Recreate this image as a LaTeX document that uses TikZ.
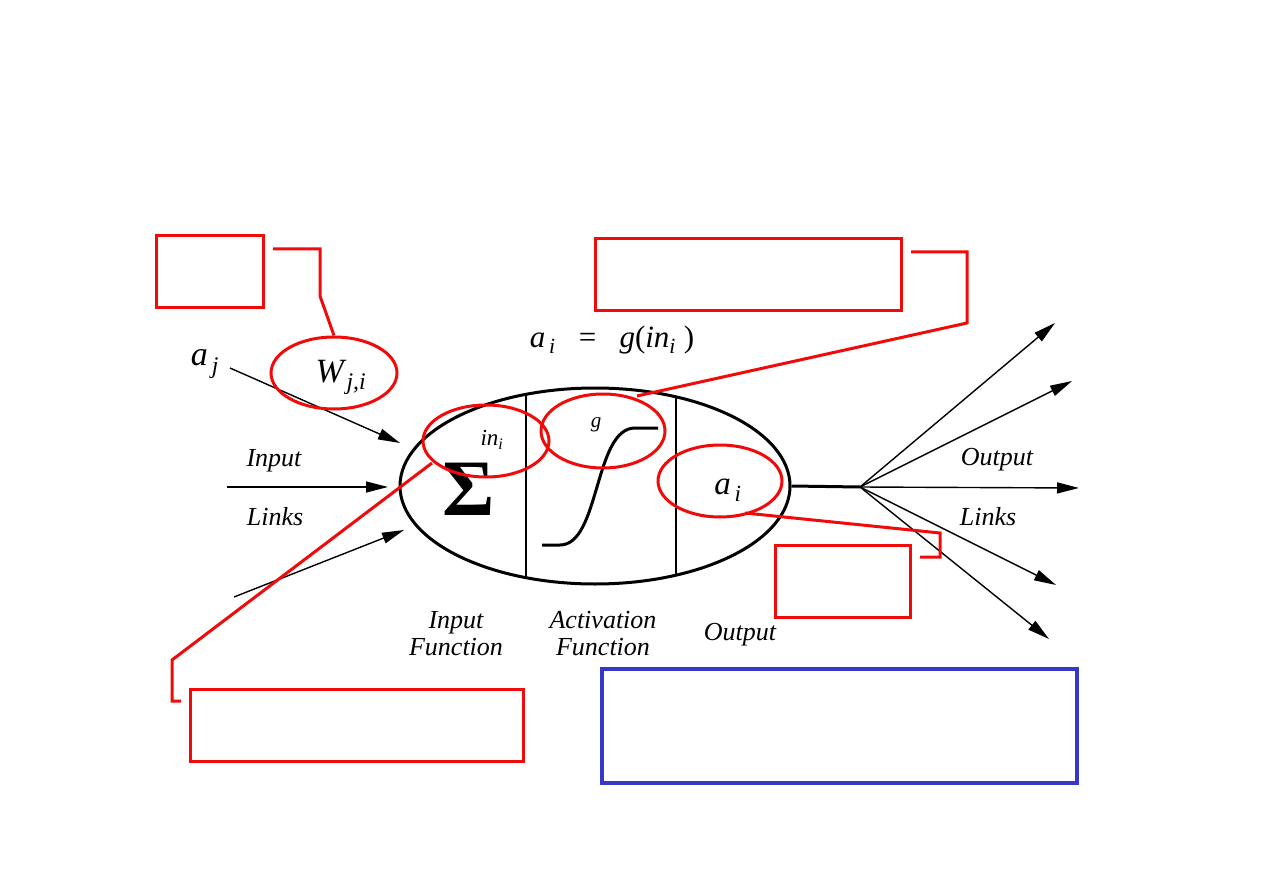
\documentclass[tikz,border=0pt]{standalone}
\usepackage{fontspec}
\setmainfont{Liberation Serif}
\usetikzlibrary{shapes.geometric,arrows.meta}
\definecolor{callred}{RGB}{240,10,10}
\definecolor{noteblue}{RGB}{55,55,200}
\newcommand{\sym}[2]{\textit{#1}\textsubscript{\textit{#2}}}
\tikzset{
  callbox/.style={draw=callred, line width=3pt, rectangle, inner sep=0pt},
  callring/.style={draw=callred, line width=3pt, ellipse, inner sep=0pt, minimum width=126pt, minimum height=72pt},
  callline/.style={draw=callred, line width=3pt},
  link/.style={line width=1.4pt, -{Triangle[length=22pt,width=11pt]}},
  lbl/.style={font=\fontsize{26}{27}\selectfont\itshape, align=center, inner sep=0pt},
  mathtxt/.style={inner sep=0pt}
}
\begin{document}
\begin{tikzpicture}[x=1pt, y=-1pt]
            \useasboundingbox (0,0) rectangle (1263,893);

            % Neuron body
            \node [draw, ellipse, line width=3pt, minimum width=390pt, minimum height=196pt, inner sep=0pt] (neuron) at (595,486) {};
            \draw [line width=1.4pt] (526,394) -- (526,578);
            \draw [line width=1.4pt] (676,397) -- (676,575);

            % Summation and activation curve
            \node [mathtxt] (sigma) at (469,489) {\fontsize{80}{80}\selectfont\bfseries Σ};
            \draw [line width=3pt] (542,545) -- (560,545) .. controls (600,545) and (594,428) .. (635,428) -- (658,428);

            % Input links
            \node [mathtxt] (aj) at (205,364) {\fontsize{34}{36}\selectfont\sym{a}{\,j}};
            \coordinate (in1) at (400,443);
            \coordinate (in2) at (388,487);
            \coordinate (in3) at (404,530);
            \draw [link] (230,368) -- (in1);
            \draw [link] (227,487) -- (in2);
            \draw [link] (234,597) -- (in3);
            \node [lbl] (inputtxt) at (274,461) {Input};
            \node [lbl] (linkstxt) at (275,517) {Links};

            % Output links
            \coordinate (hub) at (860,487);
            \draw [line width=3pt] (neuron.east) -- (hub);
            \coordinate (out1) at (1055,323);
            \coordinate (out2) at (1072,381);
            \coordinate (out3) at (1079,488);
            \coordinate (out4) at (1056,585);
            \coordinate (out5) at (1049,639);
            \foreach \o in {out1,out2,out3,out4,out5}
                \draw [link] (hub) -- (\o);
            \node [lbl] (outputtxt) at (997,460) {Output};
            \node [lbl] (linkstxt2) at (988,517) {Links};

            % Stage labels
            \node [lbl] (infunc) at (456,634) {Input\\Function};
            \node [lbl] (actfunc) at (603,634) {Activation\\Function};
            \node [lbl] (outtxt) at (740,635) {Output};

            % Formula
            \node [mathtxt] (formula) at (612,340) {\fontsize{31}{33}\selectfont\sym{a}{\,i}\ \ \ =\ \ \ \textit{g}(\sym{in}{i}\ )};

            % Neuron texts
            \node [mathtxt] (wtxt) at (341,377) {\fontsize{34}{36}\selectfont\sym{W}{j,i}};
            \node [mathtxt] (intxt) at (492,440) {\fontsize{23}{24}\selectfont\sym{in}{i}};
            \node [mathtxt] (gtxt) at (596,425) {\fontsize{21}{22}\selectfont\textit{g}};
            \node [mathtxt] (aitxt) at (728,490) {\fontsize{33}{35}\selectfont\sym{a}{\,i}};

            % Red rings
            \node [callring] (wring) at (334,373) {};
            \node [callring] (inring) at (486,441) {};
            \node [callring, minimum width=124pt, minimum height=74pt] (gring) at (603,431) {};
            \node [callring, minimum width=124pt] (aring) at (720,481) {};

            % Red callout boxes
            \node [callbox, minimum width=107pt, minimum height=71pt] (wbox) at (209.5,271.5) {};
            \node [callbox, minimum width=306pt, minimum height=71pt] (gbox) at (748,274.5) {};
            \node [callbox, minimum width=135pt, minimum height=72pt] (abox) at (842.5,581) {};
            \node [callbox, minimum width=333pt, minimum height=72pt] (inbox) at (356.5,725) {};

            % Callout lines
            \draw [callline] (273,249) -- (320,249) -- (320,296) -- (wring.north);
            \draw [callline] (911,252) -- (967,252) -- (967,323) -- (637,396);
            \draw [callline] (745,513) -- (940,533) -- (940,557) -- (920,557);
            \draw [callline] (432,463) -- (172,660) -- (172,701) -- (181,701);

            % Blue note box
            \node [draw=noteblue, line width=4pt, minimum width=475pt, minimum height=114pt, inner sep=0pt] (note) at (839.5,726) {};
        \end{tikzpicture}
\end{document}
